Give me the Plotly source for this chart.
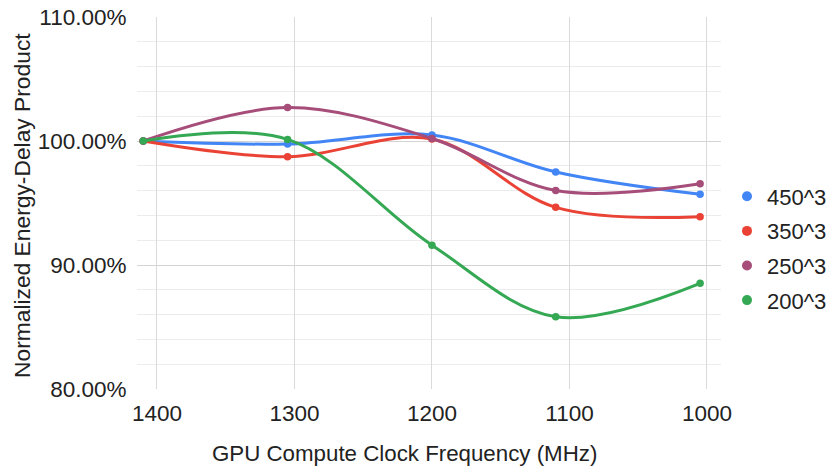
import plotly.graph_objects as go

freqs = [1410, 1305, 1200, 1110, 1005]
series_names = ["450^3", "350^3", "250^3", "200^3"]
edp_450 = [1.0000, 0.9976, 1.0048, 0.9750, 0.9570]
edp_350 = [1.0000, 0.9873, 1.0016, 0.9465, 0.9390]
edp_250 = [1.0000, 1.0270, 1.0020, 0.9600, 0.9655]
edp_200 = [1.0000, 1.0013, 0.9160, 0.8583, 0.8852]
series_values = [edp_450, edp_350, edp_250, edp_200]
colors = ["#4285F4", "#EA4335", "#A64D79", "#34A853"]
x_title = "GPU Compute Clock Frequency (MHz)"
y_title = "Normalized Energy-Delay Product"

FONT = "Arial, Liberation Sans, sans-serif"

fig = go.Figure()
for name, vals, col in zip(series_names, series_values, colors):
    fig.add_trace(go.Scatter(
        x=freqs, y=vals, name=name, mode="lines+markers",
        line=dict(color=col, width=3, shape="spline", smoothing=1),
        marker=dict(color=col, size=7.5),
        showlegend=False, legendgroup=name, hoverinfo="x+y+name",
    ))
for name, col in zip(series_names, colors):
    fig.add_trace(go.Scatter(
        x=[None], y=[None], name=name, mode="markers",
        marker=dict(color=col, size=10),
        showlegend=True, legendgroup=name,
    ))

fig.update_layout(
    width=831, height=468,
    margin=dict(l=137, r=110, t=17, b=79),
    paper_bgcolor="white", plot_bgcolor="white",
    font=dict(family=FONT, size=22.5, color="#222222"),
    legend=dict(
        x=727 / 831, xanchor="left", xref="container",
        y=(468 - 248.5) / 468, yanchor="middle", yref="container",
        font=dict(size=22, color="#222222"),
        itemwidth=30, tracegroupgap=3,
        bgcolor="rgba(0,0,0,0)",
    ),
    xaxis=dict(
        range=[1414.5, 989.8], dtick=100, tick0=1000,
        showgrid=True, gridcolor="#dadada", gridwidth=1,
        zeroline=False, showline=False, automargin=False,
        ticks="outside", ticklen=4, tickcolor="rgba(0,0,0,0)",
        tickfont=dict(size=22.5), ticklabeloverflow="allow",
    ),
    yaxis=dict(
        range=[0.80, 1.10], dtick=0.10, tick0=0.8, tickformat=".2%",
        showgrid=True, gridcolor="#d4d4d4", gridwidth=1.3,
        minor=dict(dtick=0.02, showgrid=True, gridcolor="#ececec", gridwidth=1),
        zeroline=False, showline=False, automargin=False,
        ticks="outside", ticklen=5, tickcolor="rgba(0,0,0,0)",
        tickfont=dict(size=22.5), ticklabeloverflow="allow",
    ),
    annotations=[
        dict(text=x_title, xref="paper", yref="paper",
             x=(404.5 - 137) / 584, y=-(453 - 389) / 372,
             xanchor="center", yanchor="middle", showarrow=False,
             font=dict(size=22.3, color="#222222")),
        dict(text=y_title, xref="paper", yref="paper",
             x=(22 - 137) / 584, y=(389 - 206) / 372,
             xanchor="center", yanchor="middle", showarrow=False, textangle=-90,
             font=dict(size=22.8, color="#222222")),
    ],
)

fig.write_html(
    "out.html",
    config={"displayModeBar": False},
    post_script="document.body.style.margin='0';document.body.style.overflow='hidden';",
)
